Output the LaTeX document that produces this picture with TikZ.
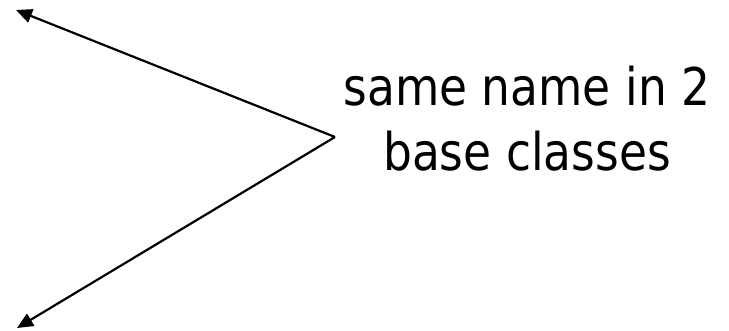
\documentclass[tikz,border=0pt]{standalone}
\usepackage{fontspec}
\setmainfont[FakeStretch=0.875]{DejaVu Sans}
\usetikzlibrary{arrows.meta}

\begin{document}
\begin{tikzpicture}[x=1pt, y=-1pt,
    ptr/.style={line width=2.2pt, -{Triangle[length=16pt,width=14pt]}}]
  \useasboundingbox (0,0) rectangle (729,330);
  \coordinate (apex) at (335,137);
  \coordinate (up) at (16,10);
  \coordinate (down) at (17,328);
  % two arrows fanning out to the left
  \draw [ptr] (apex) -- (up);
  \draw [ptr] (apex) -- (down);
  \node [align=center, font=\fontsize{52}{65}\selectfont, inner sep=0pt,
    anchor=north] (label) at (527,65.5) {same name in 2\\base classes};
\end{tikzpicture}
\end{document}
